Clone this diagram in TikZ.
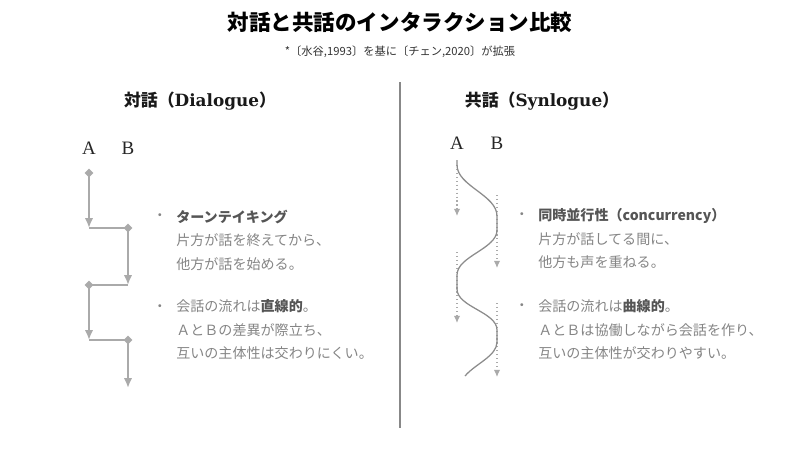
\documentclass[tikz,border=0pt]{standalone}
\usepackage{fontspec}
\setmainfont{Noto Sans CJK JP}
\newfontfamily\slabfont{DejaVu Serif}
\newfontfamily\abfont{Liberation Serif}
\usetikzlibrary{arrows.meta,shapes.geometric,positioning}

\definecolor{linegray}{HTML}{AAAAAA}
\definecolor{textgray}{HTML}{858585}
\definecolor{keygray}{HTML}{555555}
\definecolor{rulegray}{HTML}{888888}
\newcommand{\keyword}[1]{\textcolor{keygray}{\bfseries #1}}

\begin{document}
\begin{tikzpicture}[x=0.025cm,y=-0.025cm]
\tikzset{title/.style = {font=\fontsize{15.3}{18}\selectfont\bfseries, text=black}}
\tikzset{subtitle/.style = {font=\fontsize{8}{10}\selectfont, text=black!80}}
\tikzset{header/.style = {font=\fontsize{12}{14}\selectfont\bfseries, text=black!90}}
\tikzset{speaker/.style = {font=\abfont\fontsize{13.5}{15}\selectfont, text=black!85}}
\tikzset{body/.style = {font=\fontsize{10}{16.7}\selectfont, text=textgray, align=left, anchor=west, inner sep=0pt}}
\tikzset{bullet/.style = {font=\fontsize{10}{12}\selectfont, text=textgray, inner sep=0pt}}
\tikzset{marker/.style = {shape=diamond, fill=linegray, inner sep=0pt, minimum size=6.5pt}}
\tikzset{turn/.style = {draw=linegray, line width=1.4pt, -{Latex[length=7pt,width=6pt]}}}
\tikzset{link/.style = {draw=linegray, line width=1.4pt}}
\tikzset{track/.style = {draw=linegray, line width=0.8pt, dotted, -{Latex[length=5pt,width=4.5pt]}}}
\tikzset{flow/.style = {draw=black!45, line width=0.9pt}}
\tikzset{rule/.style = {draw=rulegray, line width=1.8pt}}

\useasboundingbox (0,0) rectangle (800,450);

% title
\node[title] (title) at (400,22) {対話と共話のインタラクション比較};
\node[subtitle] (source) at (400,52) {*〔水谷,1993〕を基に〔チェン,2020〕が拡張};

% divider
\coordinate (top) at (400,82);
\coordinate (bottom) at (400,428);
\draw[rule] (top) -- (bottom);

\node[header] (dialogue) at (200,101) {対話（{\slabfont Dialogue}）};
\node[header] (synlogue) at (542,101) {共話（{\slabfont Synlogue}）};

\foreach \name/\pos/\txt in {dA/{(89,148)}/A, dB/{(128,148)}/B, sA/{(457,143)}/A, sB/{(497,143)}/B}
\node[speaker] (\name) at \pos {\txt};

% dialogue: turn taking
\foreach \name/\pos in {d1/{(89,173)}, d2/{(128,228)}, d3/{(89,285)}, d4/{(128,340)}}
\node[marker] (\name) at \pos {};
\foreach \name/\x/\y in {k1/89/228, k2/128/285, k3/89/340, k4/128/388}
\coordinate (\name) at (\x,\y);

\foreach \from/\to in {k1/d2, k2/d3, k3/d4}
\draw[link] (\from) -- (\to.center);
\foreach \from/\to in {d1/k1, d2/k2, d3/k3, d4/k4}
\draw[turn] (\from.center) -- (\to);

% synlogue: overlapping voices
\foreach \name/\x/\y in {as1/457/165, ae1/457/216, as2/457/252, ae2/457/323,
                        bs1/497/195, be1/497/268, bs2/497/303, be2/497/377}
\coordinate (\name) at (\x,\y);
\foreach \from/\to in {as1/ae1, as2/ae2, bs1/be1, bs2/be2}
\draw[track] (\from) -- (\to);

\foreach \name/\x/\y in {w0/457/160, w1/457/165, w2/497/216, w3/497/230,
                        w4/457/275, w5/457/289, w6/497/330, w7/497/342, w8/465/376}
\coordinate (\name) at (\x,\y);
\draw[flow] (w0) -- (w1) .. controls +(0,21) and +(0,-21) .. (w2) -- (w3)
  .. controls +(0,19) and +(0,-19) .. (w4) -- (w5)
  .. controls +(0,18) and +(0,-18) .. (w6) -- (w7)
  .. controls +(0,14) and +(10,-12) .. (w8);

% notes
\foreach \name/\pos in {bl1/{(160,217)}, bl2/{(160,308)}, br1/{(522,216)}, br2/{(522,307)}}
\node[bullet] (\name) at \pos {・};

\node[body] (l1) at (176,240) {\keyword{ターンテイキング}\\片方が話を終えてから、\\他方が話を始める。};
\node[body] (l2) at (176,330) {会話の流れは\keyword{直線的}。\\ＡとＢの差異が際立ち、\\互いの主体性は交わりにくい。};
\node[body] (r1) at (538,239) {\keyword{同時並行性（concurrency）}\\片方が話してる間に、\\他方も声を重ねる。};
\node[body] (r2) at (538,330) {会話の流れは\keyword{曲線的}。\\ＡとＢは協働しながら会話を作り、\\互いの主体性が交わりやすい。};

\end{tikzpicture}
\end{document}
